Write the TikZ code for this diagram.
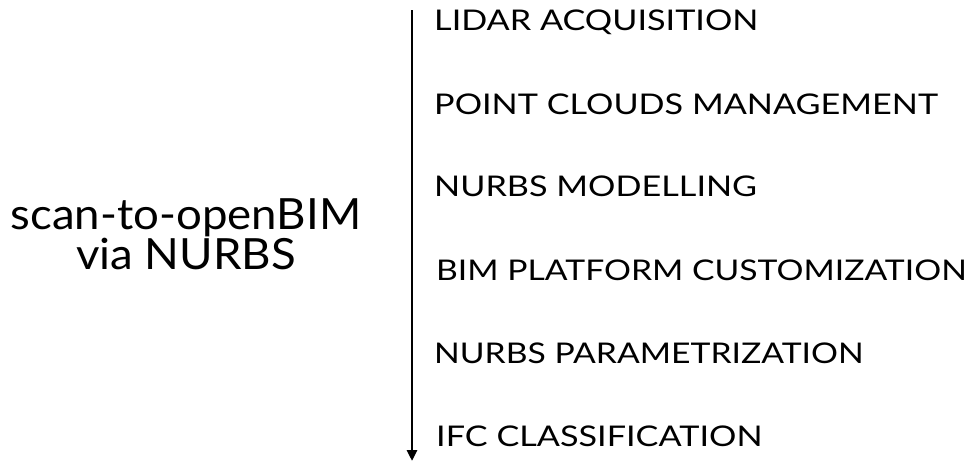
\documentclass[tikz,border=0pt]{standalone}
\usepackage{fontspec}
\setmainfont{Lato}
\newfontfamily\stepfont{Lato}[FakeStretch=1.2]
\usetikzlibrary{arrows.meta,positioning}

\begin{document}
\begin{tikzpicture}[x=1pt, y=-1pt,
    steplabel/.style={anchor=west, inner sep=0pt, font=\stepfont\fontsize{28.5}{30}\selectfont},
    titlelabel/.style={align=center, inner sep=0pt, font=\fontsize{43}{36}\selectfont}]
    \useasboundingbox (0,0) rectangle (968,461);
    \coordinate (top) at (412,10);
    \coordinate (bottom) at (412,461);
    \draw[-{Triangle[length=11pt, width=10pt]}, line width=2.8pt] (top) -- (bottom);
    \node[titlelabel, xscale=1.06, transform shape] (title) at (186,234) {scan-to-openBIM\\via NURBS};
    \node[steplabel] (lidar) at (434,22) {LIDAR ACQUISITION};
    \node[steplabel] (clouds) at (434,104) {POINT CLOUDS MANAGEMENT};
    \node[steplabel] (nurbs) at (434,186) {NURBS MODELLING};
    \node[steplabel, xscale=0.985, transform shape] (bim) at (436,270) {BIM PLATFORM CUSTOMIZATION};
    \node[steplabel, xscale=0.985, transform shape] (param) at (434,353) {NURBS PARAMETRIZATION};
    \node[steplabel] (ifc) at (436,436) {IFC CLASSIFICATION};
\end{tikzpicture}
\end{document}
